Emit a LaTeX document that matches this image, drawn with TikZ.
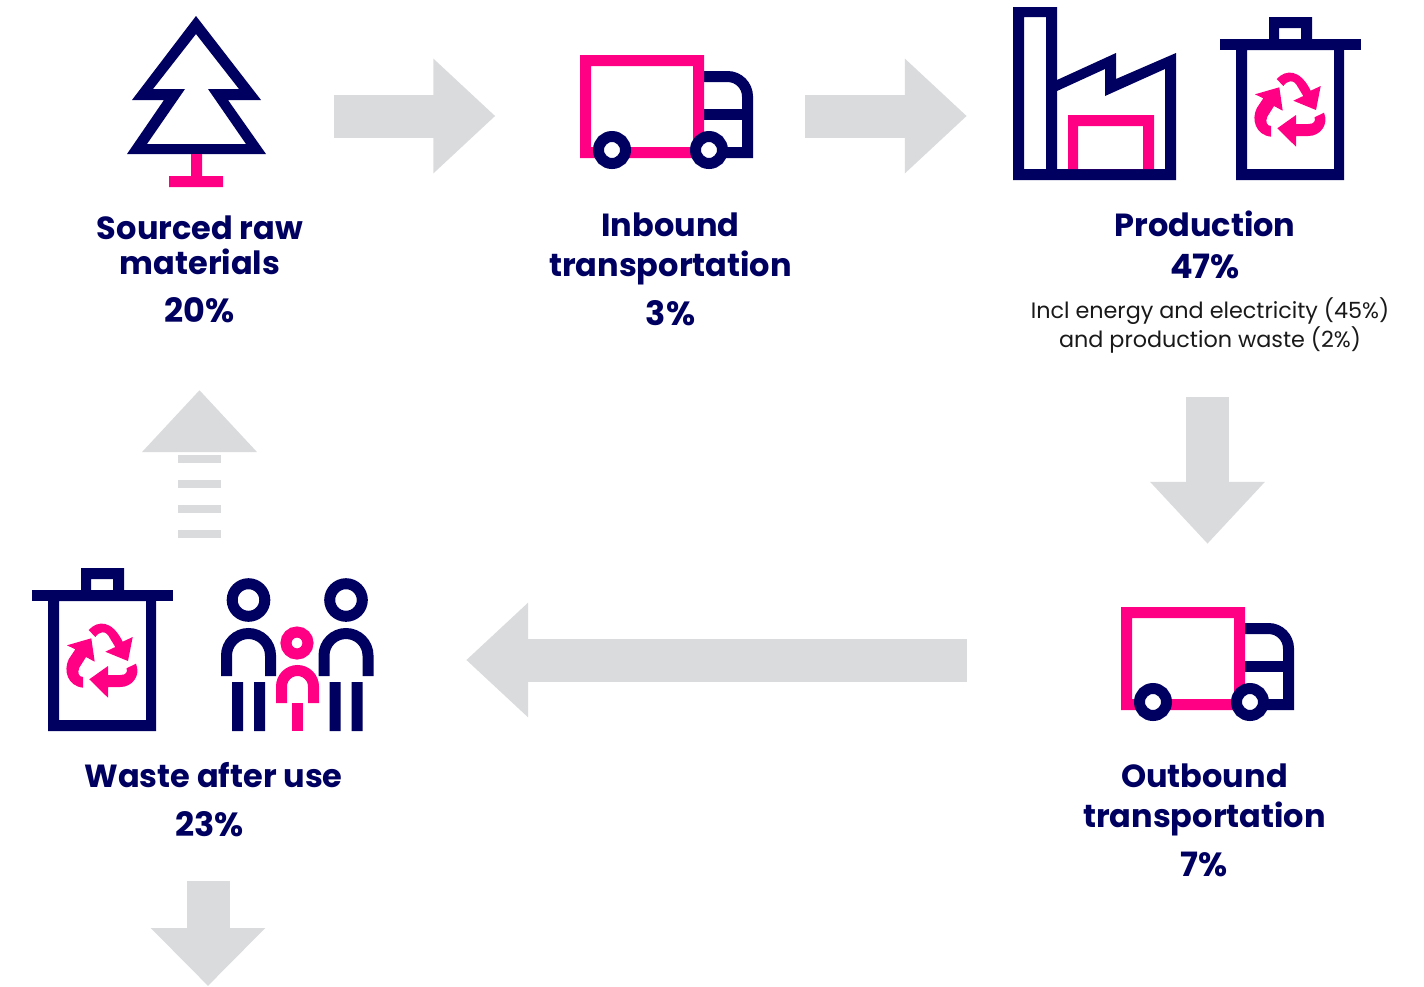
\documentclass[tikz,border=0pt]{standalone}
\usepackage{fontspec}
\setmainfont{Poppins}
\usetikzlibrary{arrows.meta}
\definecolor{navy}{HTML}{000060}
\definecolor{hotpink}{HTML}{FF0084}
\definecolor{arrowgrey}{HTML}{DADBDD}
\tikzset{
    headlabel/.style={text=navy,align=center,inner sep=0pt,font=\bfseries\fontsize{32}{40}\selectfont},
    pctlabel/.style={headlabel,font=\bfseries\fontsize{33.5}{40}\selectfont},
    notelabel/.style={text=black!90,align=center,inner sep=0pt,font=\fontsize{22.3}{29}\selectfont},
    iconbox/.style={inner sep=0pt,minimum width=#1},
    bigarrow/.style={line width=43pt,arrowgrey,-{Triangle[length=62pt,width=111pt]}},
    navyline/.style={navy,line width=11pt},
    pinkline/.style={hotpink,line width=11pt},
    navyfill/.style={fill=navy,even odd rule},
    pinkfill/.style={fill=hotpink,even odd rule},
    truck/.pic={
        \draw[navyline] (704,76.5) -- (727.5,76.5) arc[start angle=-90,end angle=0,radius=20] -- (747.5,152.5) -- (720,152.5);
        \draw[navyline] (704,114.5) -- (747.5,114.5);
        \fill[pinkfill] (580,55) rectangle (704,158) (591,66) rectangle (693,147);
        \foreach \i in {612,709}{
            \draw[navyline,fill=white] (\i,150) circle (13.5);
        }
    },
    trashbin/.pic={
        \fill[navyfill] (1269,17) rectangle (1312,39) (1279,28) rectangle (1301,39);
        \fill[navy] (1220,39) rectangle (1361,50);
        \fill[navyfill] (1236,50) rectangle (1344,180) (1247,50) rectangle (1334,169);
        \fill[hotpink] (1276.7,79) .. controls (1286,69) and (1300,69) .. (1310.7,90.7) -- (1320.7,86) -- (1316,110) -- (1293.3,100.7) -- (1303.3,96) -- (1296,84) .. controls (1293,80) and (1288,80) .. (1283.3,86) -- cycle;
        \fill[hotpink] (1255,94.3) -- (1279.3,87.3) -- (1282.7,110.7) -- (1274,106) -- (1267.3,116.7) .. controls (1265,122) and (1267,126) .. (1271,126) -- (1271,136.7) .. controls (1256,135) and (1251,120) .. (1256.7,108.3) -- (1263.3,98.3) -- cycle;
        \fill[hotpink] (1277.3,128.3) -- (1296,115) -- (1296,124) -- (1308.3,124) .. controls (1314,124) and (1316,121) .. (1314.5,117.3) -- (1324,112.7) .. controls (1329,125) and (1320,136) .. (1308.3,136) -- (1296,136) -- (1296,146.7) -- cycle;
    }
}
\begin{document}
\begin{tikzpicture}[x=1pt,y=-1pt]
    \useasboundingbox (0,0) rectangle (1424,986);
    % icon places
    \node[iconbox=139pt] (rawicon) at (196.5,116) {};
    \node[iconbox=173pt] (inicon) at (666.5,116) {};
    \node[iconbox=163pt] (factoryicon) at (1094.5,116) {};
    \node[iconbox=173pt,minimum height=106pt] (outicon) at (1207.5,660) {};
    \node[iconbox=341pt] (wasteicon) at (202.5,660) {};
    % tree
    \fill[navyfill] (196,16) -- (261,100) -- (228,100) -- (266,154) -- (127,154) -- (164,100) -- (132,100) -- cycle
        (196,34) -- (239,89) -- (208,89) -- (246,144) -- (147,144) -- (185,89) -- (153,89) -- cycle;
    \fill[hotpink] (191,154) rectangle (202,176) (169,176) rectangle (223,187);
    % trucks
    \pic at (0,0) {truck};
    \pic at (541,552) {truck};
    % factory
    \fill[navyfill] (1013,7) -- (1057,7) -- (1057,80) -- (1116,53) -- (1116,79) -- (1176,53) -- (1176,180) -- (1013,180) -- cycle
        (1024,17) rectangle (1046,169)
        (1057,91) -- (1105,69) -- (1105,96) -- (1165,69) -- (1165,169) -- (1057,169) -- cycle;
    \fill[pinkfill] (1068,115) rectangle (1154,169) (1078,126) rectangle (1143,169);
    % bins
    \pic at (0,0) {trashbin};
    \pic at (-1188,551) {trashbin};
    % people
    \foreach \i in {248.5,346}{
        \draw[navyline] (\i,600) circle (16.3);
        \draw[navyline] (\i-22,676) -- (\i-22,655.5) arc[start angle=180,end angle=360,radius=22] -- (\i+22,676);
        \fill[navy] (\i-16.5,682) rectangle (\i-5.5,731) (\i+5.5,682) rectangle (\i+16.5,731);
    }
    \draw[pinkline] (297,643) circle (11);
    \draw[pinkline] (281.5,703) -- (281.5,686.5) arc[start angle=180,end angle=360,radius=16] -- (313.5,703);
    \fill[hotpink] (292,703) rectangle (303,731);
    % labels
    \node[headlabel] (rawname) at (200,245) {Sourced raw\\[-5pt]materials};
    \node[pctlabel] (rawpct) at (199.5,310) {20\%};
    \node[headlabel] (inname) at (670.5,249) {Inbound\\transportation};
    \node[pctlabel] (inpct) at (670.5,313) {3\%};
    \node[headlabel] (prodname) at (1205,223.5) {Production};
    \node[pctlabel] (prodpct) at (1205,266) {47\%};
    \node[notelabel] (prodnote) at (1210,325) {Incl energy and electricity (45\%)\\and production waste (2\%)};
    \node[headlabel] (outname) at (1204.5,800) {Outbound\\transportation};
    \node[pctlabel] (outpct) at (1204.5,864) {7\%};
    \node[headlabel] (wastename) at (213.5,775.5) {Waste after use};
    \node[pctlabel] (wastepct) at (209.5,824) {23\%};
    % arrows
    \coordinate (prodout) at (1207.5,397);
    \coordinate (wastetop) at (199.5,538);
    \coordinate (wasteout) at (208,986);
    \draw[bigarrow,shorten <=67.5pt,shorten >=84.5pt] (rawicon.east) -- (inicon.west);
    \draw[bigarrow,shorten <=52pt,shorten >=46pt] (inicon.east) -- (factoryicon.west);
    \draw[bigarrow,shorten >=63pt] (prodout) -- (outicon.north);
    \draw[bigarrow,shorten <=154pt,shorten >=93pt] (outicon.west) -- (wasteicon.east);
    \draw[bigarrow,dash pattern=on 8pt off 17pt,shorten >=80pt] (wastetop) -- (rawpct.center);
    \draw[bigarrow,-{Triangle[length=58pt,width=111pt]},shorten <=57pt] (wasteout |- wastepct.center) -- (wasteout);
\end{tikzpicture}
\end{document}
